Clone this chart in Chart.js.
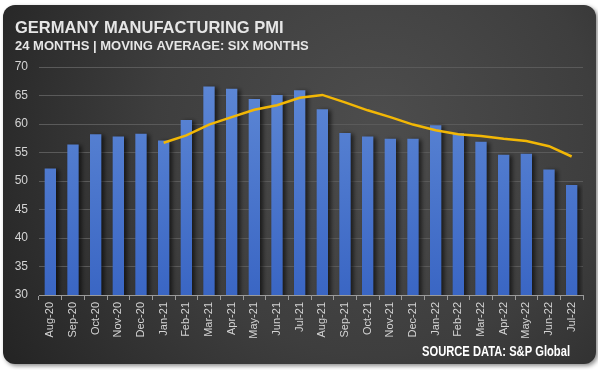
<!DOCTYPE html>
<html>
<head>
<meta charset="utf-8">
<script src="https://cdn.jsdelivr.net/npm/chart.js@4/dist/chart.umd.min.js"></script>
<style>
  html, body { margin: 0; padding: 0; background: #ffffff; }
  #wrap { width: 598px; height: 370px; position: relative; }
</style>
</head>
<body>
<div id="wrap"><canvas id="chart" width="598" height="370"></canvas></div>
<script>
// months shown on the x axis
var months = ['Aug-20', 'Sep-20', 'Oct-20', 'Nov-20', 'Dec-20', 'Jan-21', 'Feb-21', 'Mar-21',
    'Apr-21', 'May-21', 'Jun-21', 'Jul-21', 'Aug-21', 'Sep-21', 'Oct-21', 'Nov-21', 'Dec-21',
    'Jan-22', 'Feb-22', 'Mar-22', 'Apr-22', 'May-22', 'Jun-22', 'Jul-22'];

// monthly PMI readings
var pmi = [52.2, 56.4, 58.2, 57.8, 58.3, 57.1, 60.7, 66.6, 66.2, 64.4, 65.1, 65.9,
    62.6, 58.4, 57.8, 57.4, 57.4, 59.8, 58.4, 56.9, 54.6, 54.8, 52.0, 49.3];

// six month moving average (starts once six months are available)
var movingAvg = [null, null, null, null, null, 56.7, 58.0, 59.9, 61.2, 62.5, 63.3, 64.6,
    65.1, 63.8, 62.4, 61.2, 59.9, 58.9, 58.2, 57.9, 57.4, 57.0, 56.1, 54.3];

var yTicks = [30, 35, 40, 45, 50, 55, 60, 65, 70];

var titleText = 'GERMANY MANUFACTURING PMI';
var subtitleText = '24 MONTHS | MOVING AVERAGE: SIX MONTHS';
var sourceText = 'SOURCE DATA: S&P Global';

function roundRect(ctx, x, y, w, h, r) {
    ctx.beginPath();
    ctx.moveTo(x + r, y);
    ctx.lineTo(x + w - r, y);
    ctx.arcTo(x + w, y, x + w, y + r, r);
    ctx.lineTo(x + w, y + h - r);
    ctx.arcTo(x + w, y + h, x + w - r, y + h, r);
    ctx.lineTo(x + r, y + h);
    ctx.arcTo(x, y + h, x, y + h - r, r);
    ctx.lineTo(x, y + r);
    ctx.arcTo(x, y, x + r, y, r);
    ctx.closePath();
}

// dark rounded card behind everything, plus the heading texts
var cardPlugin = {
    id: 'card',
    beforeDraw: function (chart) {
        var ctx = chart.ctx;
        ctx.save();
        roundRect(ctx, 3, 5, 593, 359, 12);
        ctx.shadowColor = 'rgba(0,0,0,0.45)';
        ctx.shadowBlur = 4;
        ctx.shadowOffsetX = 2;
        ctx.shadowOffsetY = 2;
        var g = ctx.createRadialGradient(380, 120, 10, 370, 150, 430);
        g.addColorStop(0, '#4c4c4c');
        g.addColorStop(0.5, '#3e3e3e');
        g.addColorStop(1, '#232323');
        ctx.fillStyle = g;
        ctx.fill();
        ctx.restore();

        ctx.save();
        ctx.fillStyle = '#e6e6e6';
        ctx.textBaseline = 'alphabetic';
        ctx.textAlign = 'left';
        ctx.font = 'bold 16.5px "Liberation Sans", Arial, sans-serif';
        ctx.fillText(titleText, 15, 33);
        ctx.font = 'bold 13px "Liberation Sans", Arial, sans-serif';
        ctx.fillText(subtitleText, 15, 50);
        ctx.restore();
    },
    afterDraw: function (chart) {
        // condensed look: squeeze the source line to its width in the picture
        var ctx = chart.ctx;
        ctx.save();
        ctx.fillStyle = '#ffffff';
        ctx.textAlign = 'left';
        ctx.textBaseline = 'alphabetic';
        ctx.font = 'bold 14px "Liberation Sans", Arial, sans-serif';
        var w = ctx.measureText(sourceText).width;
        var target = 148;
        ctx.translate(570 - target, 356);
        ctx.scale(target / w, 1);
        ctx.fillText(sourceText, 0, 0);
        ctx.restore();
    }
};

// soft shadow to the right of every bar
var barShadow = {
    id: 'barShadow',
    beforeDatasetDraw: function (chart, args) {
        if (args.index !== 0) {
            return;
        }
        var ctx = chart.ctx;
        ctx.save();
        ctx.shadowColor = 'rgba(0,0,0,0.6)';
        ctx.shadowBlur = 4;
        ctx.shadowOffsetX = 3;
        ctx.shadowOffsetY = 1;
    },
    afterDatasetDraw: function (chart, args) {
        if (args.index === 0) {
            chart.ctx.restore();
        }
    }
};

function barFill(context) {
    var area = context.chart.chartArea;
    if (!area) {
        return '#4a78d0';
    }
    var g = context.chart.ctx.createLinearGradient(0, area.top, 0, area.bottom);
    g.addColorStop(0, '#5f89d6');
    g.addColorStop(1, '#3a66c4');
    return g;
}

new Chart(document.getElementById('chart').getContext('2d'), {
    data: {
        labels: months,
        datasets: [{
            type: 'bar',
            label: 'PMI',
            data: pmi,
            backgroundColor: barFill,
            borderWidth: 0,
            categoryPercentage: 1,
            barPercentage: 0.5,
            order: 1
        }, {
            type: 'line',
            label: 'Six month moving average',
            data: movingAvg,
            borderColor: '#f2b705',
            borderWidth: 2.5,
            pointRadius: 0,
            tension: 0,
            fill: false,
            spanGaps: false,
            order: 0
        }]
    },
    options: {
        responsive: false,
        animation: false,
        layout: { padding: { top: 67, right: 15, bottom: 0, left: 0 } },
        plugins: {
            legend: { display: false },
            tooltip: { enabled: false }
        },
        scales: {
            x: {
                offset: true,
                afterFit: function (scale) { scale.height = 75; },
                grid: {
                    offset: true,
                    drawOnChartArea: false,
                    drawTicks: true,
                    tickLength: 5,
                    color: '#9a9a9a'
                },
                border: { display: true, color: '#9a9a9a' },
                ticks: {
                    autoSkip: false,
                    minRotation: 90,
                    maxRotation: 90,
                    padding: 2,
                    color: '#d4d4d4',
                    font: { family: '"Liberation Sans", Arial, sans-serif', size: 11 }
                }
            },
            y: {
                min: 30,
                max: 70,
                afterFit: function (scale) { scale.width = 39; },
                afterBuildTicks: function (scale) {
                    scale.ticks = yTicks.map(function (v) { return { value: v }; });
                },
                grid: { color: '#5a5a5a', drawTicks: false },
                border: { display: false },
                ticks: {
                    padding: 11,
                    color: '#d4d4d4',
                    font: { family: '"Liberation Sans", Arial, sans-serif', size: 12 }
                }
            }
        }
    },
    plugins: [cardPlugin, barShadow]
});
</script>
</body>
</html>
